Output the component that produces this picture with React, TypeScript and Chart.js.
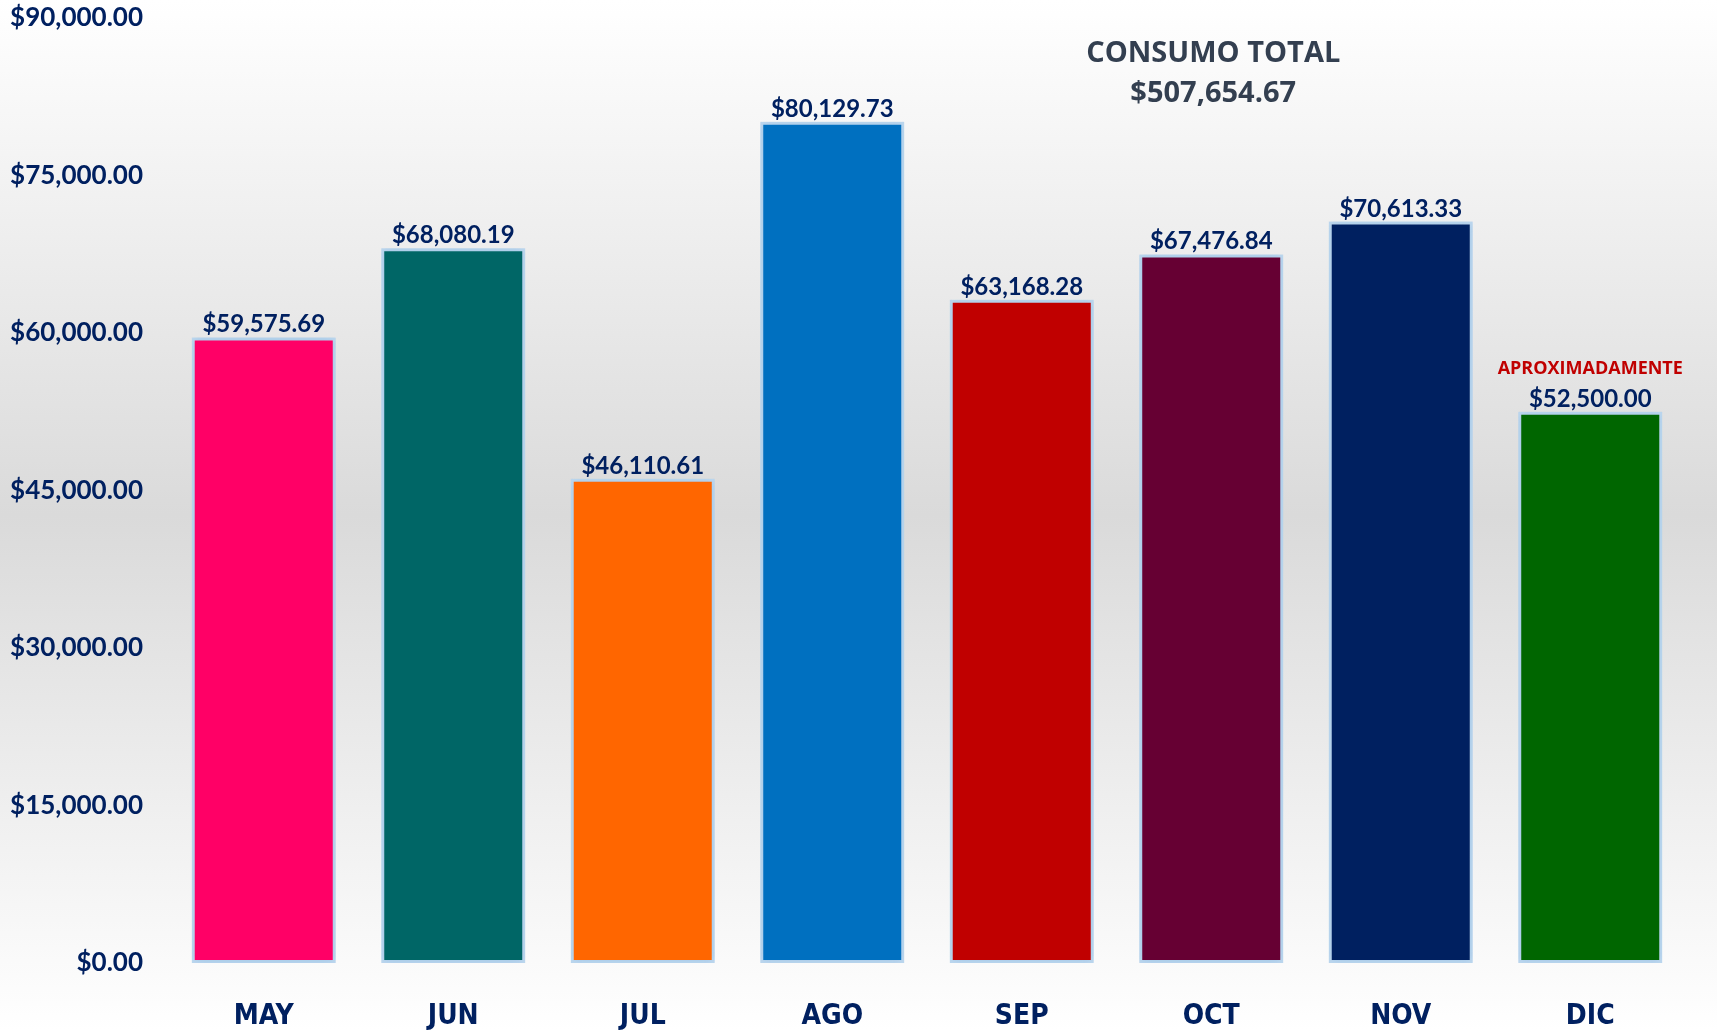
import React, { useEffect, useRef } from "react";
import { Chart, registerables } from "chart.js";

Chart.register(...registerables);

const months = ["MAY", "JUN", "JUL", "AGO", "SEP", "OCT", "NOV", "DIC"];
const consumo = [59575.69, 68080.19, 46110.61, 80129.73, 63168.28, 67476.84, 70613.33, 52500.0];
const barColors = ["#ff0066", "#006666", "#ff6600", "#0070c0", "#c00000", "#660033", "#002060", "#006600"];
const titleLines = ["CONSUMO TOTAL", "$507,654.67"];
const noteText = "APROXIMADAMENTE";
const noteIndex = 7;
const yMax = 90000;
const yStep = 15000;

const money = (v: number) =>
  "$" + v.toLocaleString("en-US", { minimumFractionDigits: 2, maximumFractionDigits: 2 });

const NAVY = "#002060";

const glowPlugin = {
  id: "glow",
  beforeDatasetsDraw(chart: any) {
    const ctx = chart.ctx;
    ctx.save();
    ctx.shadowColor = "rgba(157,195,230,0.95)";
    ctx.shadowBlur = 7;
  },
  afterDatasetsDraw(chart: any) {
    chart.ctx.restore();
  },
};

const labelPlugin = {
  id: "valueLabels",
  afterDatasetsDraw(chart: any) {
    const ctx = chart.ctx;
    const meta = chart.getDatasetMeta(0);
    ctx.save();
    ctx.textAlign = "center";
    ctx.textBaseline = "alphabetic";
    meta.data.forEach((bar: any, i: number) => {
      ctx.fillStyle = NAVY;
      ctx.font = "bold 24px Lato, 'Open Sans', sans-serif";
      ctx.fillText(money(consumo[i]), bar.x, bar.y - 5);
      if (i === noteIndex) {
        ctx.fillStyle = "#c00000";
        ctx.font = "bold 18px 'Open Sans', 'Noto Sans', sans-serif";
        ctx.fillText(noteText, bar.x, bar.y - 38);
      }
    });
    // title
    const xs = chart.scales.x;
    const tx = xs.getPixelForValue(5) + 2;
    ctx.fillStyle = "#333f50";
    ctx.font = "bold 29px 'Open Sans', 'Noto Sans', sans-serif";
    ctx.fillText(titleLines[0], tx, 62);
    ctx.fillText(titleLines[1], tx, 102);
    ctx.restore();
  },
};

export default function App() {
  const canvasRef = useRef<HTMLCanvasElement | null>(null);

  useEffect(() => {
    document.body.style.margin = "0";
    const canvas = canvasRef.current;
    if (!canvas) return;
    const chart = new Chart(canvas, {
      type: "bar",
      data: {
        labels: months,
        datasets: [
          {
            data: consumo,
            backgroundColor: barColors,
            borderColor: "#bdd7ee",
            borderWidth: 3,
            borderSkipped: false,
            barPercentage: 0.76,
            categoryPercentage: 1,
          },
        ],
      },
      options: {
        animation: false,
        responsive: true,
        maintainAspectRatio: false,
        layout: { padding: { top: 0, right: 32, bottom: 0, left: 0 } },
        plugins: {
          legend: { display: false },
          tooltip: { enabled: false },
          title: { display: false },
        },
        scales: {
          x: {
            grid: { display: false, drawTicks: false },
            border: { display: false },
            ticks: {
              color: NAVY,
              padding: 37,
              font: { family: "'Liberation Sans Narrow', 'DejaVu Sans Condensed', 'Roboto Condensed', Roboto", size: 28, weight: "bold" },
            },
            afterFit(scale: any) {
              scale.height = 68;
              scale.paddingLeft = 0;
              scale.paddingRight = 0;
            },
          },
          y: {
            min: 0,
            max: yMax,
            grid: { display: false, drawTicks: false },
            border: { display: false },
            ticks: {
              stepSize: yStep,
              color: NAVY,
              padding: 26,
              font: { family: "Lato, 'Open Sans', sans-serif", size: 26, weight: "bold" },
              callback: (v: any) => money(Number(v)),
            },
            afterFit(scale: any) {
              scale.width = 169;
              scale.paddingTop = 18;
              scale.paddingBottom = 0;
            },
          },
        },
      },
      plugins: [glowPlugin, labelPlugin],
    } as any);
    return () => chart.destroy();
  }, []);

  return (
    <div
      style={{
        position: "relative",
        width: 1717,
        height: 1031,
        background: "linear-gradient(180deg, #ffffff 0%, #dadada 50%, #ffffff 100%)",
      }}
    >
      <canvas ref={canvasRef} />
    </div>
  );
}
